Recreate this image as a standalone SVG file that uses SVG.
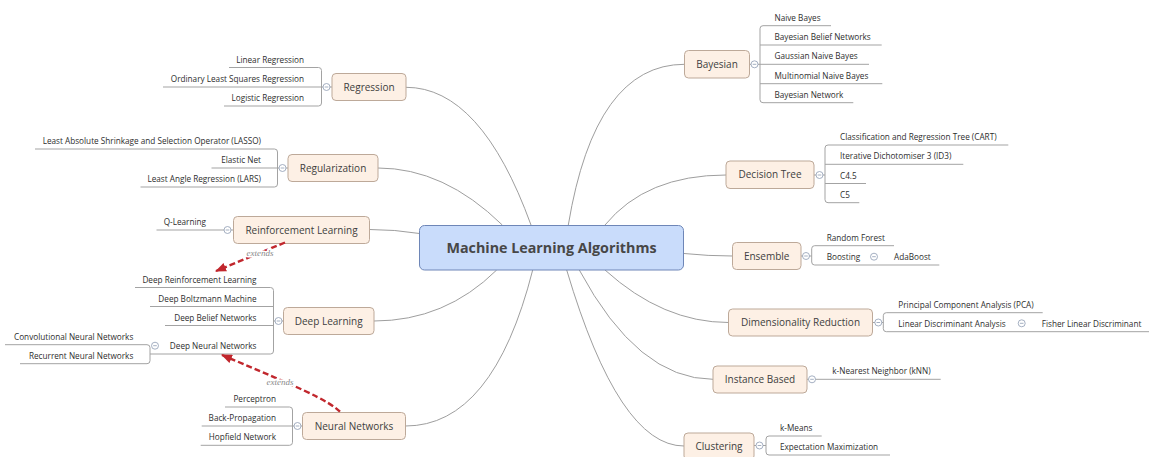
<svg xmlns="http://www.w3.org/2000/svg" xmlns:xlink="http://www.w3.org/1999/xlink" width="1149" height="457" viewBox="0 0 1149 457">
  <style>
    .bg { fill: #ffffff; }
    .curve { fill: none; stroke: #9e9e9e; stroke-width: 1; }
    .branch { fill: none; stroke: #a3a3a3; stroke-width: 1; }
    .topic rect { fill: #fdf0e5; stroke: #bda999; stroke-width: 1; }
    .topic text { font-family: "Open Sans", "Noto Sans", sans-serif; font-size: 10px; fill: #404040; text-anchor: middle; }
    .root rect { fill: #c9dcfb; stroke: #6e86b7; stroke-width: 1; }
    .root text { font-family: "Open Sans", "Noto Sans", sans-serif; font-size: 14.3px; font-weight: bold; fill: #474747; text-anchor: middle; }
    .sub { font-family: "Open Sans", "Noto Sans", sans-serif; font-size: 8.2px; fill: #2e2e2e; }
    .l { text-anchor: end; }
    .btn circle { fill: #ffffff; stroke: #8e9cb3; stroke-width: 0.8; }
    .btn path { stroke: #8e9cb3; stroke-width: 0.8; }
    .rel { fill: none; stroke: #c1272d; stroke-width: 2.4; stroke-dasharray: 6 3; }
    .rel-label { font-family: "Liberation Serif", "DejaVu Serif", serif; font-style: italic; font-size: 9px; fill: #8a8a8a; text-anchor: middle; stroke: #ffffff; stroke-width: 3; paint-order: stroke; }
  </style>
  <defs>
    <g id="btn" class="btn">
      <circle r="3.5"/>
      <path d="M-1.8,0H1.8"/>
    </g>
    <marker id="arrow" viewBox="0 0 11 9" refX="10" refY="4.5" markerWidth="11" markerHeight="9" markerUnits="userSpaceOnUse" orient="auto">
      <path d="M0,0 L11,4.5 L0,9 Z" fill="#c1272d"/>
    </marker>
  </defs>

  <rect class="bg" x="0" y="0" width="1149" height="457"/>

  <!-- connectors: curves from the root topic and branch lines to sub topics -->
  <g id="connectors">
    <path class="curve" d="M406,87.3 Q481,87.3 531,225"/>
    <path class="curve" d="M378,168 Q444,168 502.3,225"/>
    <path class="curve" d="M369.5,229.5 Q395,229.5 419.5,233.5"/>
    <path class="curve" d="M374,321 Q445,321 496.7,270"/>
    <path class="curve" d="M405.5,426 Q493,426 532.7,270"/>
    <path class="curve" d="M684.5,64.3 Q595,64.3 568.3,225"/>
    <path class="curve" d="M726,175 Q646,175 605,225"/>
    <path class="curve" d="M732.5,256 Q708,256 684,253.5"/>
    <path class="curve" d="M728.5,322.5 Q663,322.5 605,270"/>
    <path class="curve" d="M713,379.3 Q638,379.3 579.3,270"/>
    <path class="curve" d="M684,446 Q619,446 566.7,270"/>

    <!-- Regression -->
    <path class="branch" d="M229,67.5 H318.5 Q321.5,67.5 321.5,70.5 V103 Q321.5,106 318.5,106 H224"/>
    <path class="branch" d="M163,87 H332"/>
    <!-- Regularization -->
    <path class="branch" d="M35,149 H274.5 Q277.5,149 277.5,152 V184 Q277.5,187 274.5,187 H140.5"/>
    <path class="branch" d="M211.5,168 H288"/>
    <!-- Reinforcement Learning -->
    <path class="branch" d="M156.5,230 H233.5"/>
    <!-- Deep Learning -->
    <path class="branch" d="M135,287.5 H270.5 Q273.5,287.5 273.5,290.5 V351 Q273.5,354 270.5,354 H150"/>
    <path class="branch" d="M150,306.5 H273.5"/>
    <path class="branch" d="M165,325.5 H273.5"/>
    <path class="branch" d="M273.5,321 H283.5"/>
    <path class="branch" d="M5,344.7 H147 Q150,344.7 150,347.7 V360.7 Q150,363.7 147,363.7 H20"/>
    <!-- Neural Networks -->
    <path class="branch" d="M225,407 H289.5 Q292.5,407 292.5,410 V442.3 Q292.5,445.3 289.5,445.3 H200.7"/>
    <path class="branch" d="M201.7,426 H302.5"/>
    <!-- Bayesian -->
    <path class="branch" d="M831,25.7 H763 Q760,25.7 760,28.7 V99.7 Q760,102.7 763,102.7 H853.3"/>
    <path class="branch" d="M749.5,64.3 H869"/>
    <path class="branch" d="M760,45 H881.7"/>
    <path class="branch" d="M760,83.7 H882.3"/>
    <!-- Decision Tree -->
    <path class="branch" d="M1008.3,145 H828 Q825,145 825,148 V199.7 Q825,202.7 828,202.7 H859.3"/>
    <path class="branch" d="M825,164.3 H963.3"/>
    <path class="branch" d="M825,183.5 H866"/>
    <path class="branch" d="M814,175 H825"/>
    <!-- Ensemble -->
    <path class="branch" d="M894,245.7 H814.7 Q811.7,245.7 811.7,248.7 V262 Q811.7,265 814.7,265 H939.3"/>
    <path class="branch" d="M801,256 H811.7"/>
    <!-- Dimensionality Reduction -->
    <path class="branch" d="M1042.7,312.7 H886.3 Q883.3,312.7 883.3,315.7 V328.7 Q883.3,331.7 886.3,331.7 H1149"/>
    <path class="branch" d="M872.5,322.5 H883.3"/>
    <!-- Instance Based -->
    <path class="branch" d="M807,379.3 H940.7"/>
    <!-- Clustering -->
    <path class="branch" d="M821.7,436 H769 Q766,436 766,439 V452 Q766,455 769,455 H890"/>
    <path class="branch" d="M754,445.5 H766"/>
  </g>

  <!-- root topic -->
  <g id="root" class="root">
    <rect x="419.5" y="225.5" width="264" height="44.5" rx="5"/>
    <text x="551.5" y="252.6">Machine Learning Algorithms</text>
  </g>

  <!-- main topics -->
  <g id="regression" class="topic">
    <rect x="332" y="73.5" width="74" height="27" rx="4"/>
    <text x="369" y="90.6">Regression</text>
    <use xlink:href="#btn" x="326.5" y="87"/>
  </g>
  <g id="regularization" class="topic">
    <rect x="288" y="154.5" width="90" height="27" rx="4"/>
    <text x="333" y="171.6">Regularization</text>
    <use xlink:href="#btn" x="282.5" y="168"/>
  </g>
  <g id="reinforcement-learning" class="topic">
    <rect x="233.5" y="216.5" width="136" height="27" rx="4"/>
    <text x="301.5" y="233.6">Reinforcement Learning</text>
    <use xlink:href="#btn" x="227.5" y="230"/>
  </g>
  <g id="deep-learning" class="topic">
    <rect x="283.5" y="307.5" width="90.5" height="27" rx="4"/>
    <text x="328.7" y="324.6">Deep Learning</text>
    <use xlink:href="#btn" x="278.5" y="321"/>
  </g>
  <g id="neural-networks" class="topic">
    <rect x="302.5" y="412.5" width="103" height="27" rx="4"/>
    <text x="354" y="429.6">Neural Networks</text>
    <use xlink:href="#btn" x="297.5" y="426"/>
  </g>
  <g id="bayesian" class="topic">
    <rect x="684.5" y="50.5" width="65" height="27.5" rx="4"/>
    <text x="717" y="67.9">Bayesian</text>
    <use xlink:href="#btn" x="754.5" y="64.3"/>
  </g>
  <g id="decision-tree" class="topic">
    <rect x="726" y="161" width="88" height="27.5" rx="4"/>
    <text x="770" y="178.4">Decision Tree</text>
    <use xlink:href="#btn" x="819.5" y="175"/>
  </g>
  <g id="ensemble" class="topic">
    <rect x="732.5" y="242.5" width="68.5" height="27" rx="4"/>
    <text x="766.7" y="259.6">Ensemble</text>
    <use xlink:href="#btn" x="806" y="256"/>
  </g>
  <g id="dimensionality-reduction" class="topic">
    <rect x="728.5" y="309" width="144" height="27" rx="4"/>
    <text x="800.5" y="326.1">Dimensionality Reduction</text>
    <use xlink:href="#btn" x="878.3" y="322.5"/>
  </g>
  <g id="instance-based" class="topic">
    <rect x="713" y="366" width="94" height="27" rx="4"/>
    <text x="760" y="383">Instance Based</text>
    <use xlink:href="#btn" x="812" y="379.3"/>
  </g>
  <g id="clustering" class="topic">
    <rect x="684" y="433" width="70" height="27" rx="4"/>
    <text x="719" y="450.1">Clustering</text>
    <use xlink:href="#btn" x="759.5" y="445.5"/>
  </g>

  <!-- sub topics, left side -->
  <g id="linear-regression"><text class="sub l" x="304" y="62.5">Linear Regression</text></g>
  <g id="ols-regression"><text class="sub l" x="304" y="82">Ordinary Least Squares Regression</text></g>
  <g id="logistic-regression"><text class="sub l" x="304" y="101">Logistic Regression</text></g>

  <g id="lasso"><text class="sub l" x="261" y="144">Least Absolute Shrinkage and Selection Operator (LASSO)</text></g>
  <g id="elastic-net"><text class="sub l" x="261" y="163">Elastic Net</text></g>
  <g id="lars"><text class="sub l" x="261" y="182">Least Angle Regression (LARS)</text></g>

  <g id="q-learning"><text class="sub l" x="206" y="225">Q-Learning</text></g>

  <g id="deep-reinforcement-learning"><text class="sub l" x="256.5" y="282.5">Deep Reinforcement Learning</text></g>
  <g id="deep-boltzmann-machine"><text class="sub l" x="256.5" y="301.5">Deep Boltzmann Machine</text></g>
  <g id="deep-belief-networks"><text class="sub l" x="256.5" y="320.5">Deep Belief Networks</text></g>
  <g id="deep-neural-networks">
    <text class="sub l" x="256.5" y="349">Deep Neural Networks</text>
    <use xlink:href="#btn" x="155" y="345.7"/>
  </g>
  <g id="cnn"><text class="sub l" x="133.3" y="339.7">Convolutional Neural Networks</text></g>
  <g id="rnn"><text class="sub l" x="133.3" y="358.7">Recurrent Neural Networks</text></g>

  <g id="perceptron"><text class="sub l" x="276" y="402">Perceptron</text></g>
  <g id="back-propagation"><text class="sub l" x="276" y="421.3">Back-Propagation</text></g>
  <g id="hopfield-network"><text class="sub l" x="276" y="440.3">Hopfield Network</text></g>

  <!-- sub topics, right side -->
  <g id="naive-bayes"><text class="sub" x="774.5" y="20.7">Naive Bayes</text></g>
  <g id="bayesian-belief-networks"><text class="sub" x="774.5" y="40">Bayesian Belief Networks</text></g>
  <g id="gaussian-naive-bayes"><text class="sub" x="774.5" y="59.3">Gaussian Naive Bayes</text></g>
  <g id="multinomial-naive-bayes"><text class="sub" x="774.5" y="78.7">Multinomial Naive Bayes</text></g>
  <g id="bayesian-network"><text class="sub" x="774.5" y="97.7">Bayesian Network</text></g>

  <g id="cart"><text class="sub" x="840" y="140">Classification and Regression Tree (CART)</text></g>
  <g id="id3"><text class="sub" x="840" y="159.3">Iterative Dichotomiser 3 (ID3)</text></g>
  <g id="c45"><text class="sub" x="840" y="178.5">C4.5</text></g>
  <g id="c5"><text class="sub" x="840" y="197.7">C5</text></g>

  <g id="random-forest"><text class="sub" x="826.7" y="240.7">Random Forest</text></g>
  <g id="boosting">
    <text class="sub" x="826.7" y="260">Boosting</text>
    <use xlink:href="#btn" x="874" y="256.7"/>
  </g>
  <g id="adaboost"><text class="sub" x="894" y="260">AdaBoost</text></g>

  <g id="pca"><text class="sub" x="898.3" y="307.7">Principal Component Analysis (PCA)</text></g>
  <g id="lda">
    <text class="sub" x="898.3" y="326.7">Linear Discriminant Analysis</text>
    <use xlink:href="#btn" x="1021.7" y="323.3"/>
  </g>
  <g id="fisher-lda"><text class="sub" x="1041.7" y="326.7">Fisher Linear Discriminant</text></g>

  <g id="knn"><text class="sub" x="832.3" y="374.3">k-Nearest Neighbor (kNN)</text></g>

  <g id="k-means"><text class="sub" x="780" y="431">k-Means</text></g>
  <g id="expectation-maximization"><text class="sub" x="780" y="450">Expectation Maximization</text></g>

  <!-- "extends" relationships -->
  <g id="relationships">
    <path class="rel" d="M285,242.5 L216,271" marker-end="url(#arrow)"/>
    <text class="rel-label" x="260" y="256">extends</text>
    <path class="rel" d="M340,411.7 C328,400 300,388 222,355" marker-end="url(#arrow)"/>
    <text class="rel-label" x="280" y="385">extends</text>
  </g>
</svg>
